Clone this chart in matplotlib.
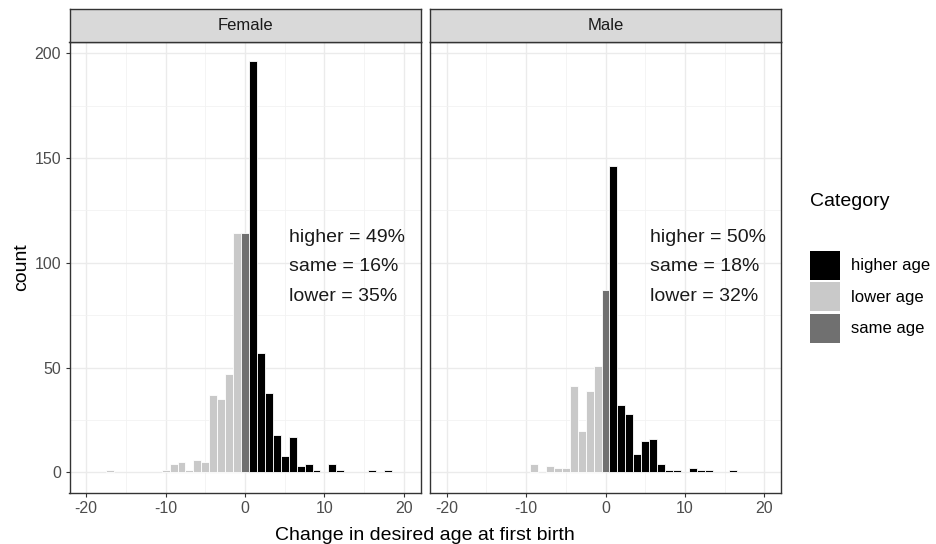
import matplotlib.pyplot as plt
from matplotlib.patches import Patch

plt.rcParams["font.family"] = ["Liberation Sans", "DejaVu Sans"]
plt.rcParams["axes.unicode_minus"] = False

# change in desired age at first birth (bins of width 1) and counts
female_x = [-17, -10, -9, -8, -7, -6, -5, -4, -3, -2, -1, 0, 1, 2, 3, 4, 5, 6, 7, 8, 9, 11, 12, 16, 18]
female_n = [1, 1, 4, 5, 1, 6, 5, 37, 35, 47, 114, 114, 196, 57, 38, 18, 8, 17, 3, 4, 1, 4, 1, 1, 1]

male_x = [-9, -7, -6, -5, -4, -3, -2, -1, 0, 1, 2, 3, 4, 5, 6, 7, 8, 9, 11, 12, 13, 16]
male_n = [4, 3, 2, 2, 41, 20, 39, 51, 87, 146, 32, 28, 9, 15, 16, 4, 1, 1, 2, 1, 1, 1]

panels = ["Female", "Male"]
notes = [["higher = 49%", "same = 16%", "lower = 35%"],
         ["higher = 50%", "same = 18%", "lower = 32%"]]

cat_colors = {"higher age": "#000000", "lower age": "#c9c9c9", "same age": "#707070"}


def category(v):
    if v > 0:
        return "higher age"
    if v < 0:
        return "lower age"
    return "same age"


fig = plt.figure(figsize=(9.36, 5.44), dpi=100)

lefts = [69.5 / 936, 430 / 936]
width = 351 / 936
bottom = 1 - 493 / 544
height = (493 - 42) / 544
strip_h = 33 / 544

data = [(female_x, female_n), (male_x, male_n)]

for k in range(2):
    ax = fig.add_axes([lefts[k], bottom, width, height])
    xs, ns = data[k]
    cols = [cat_colors[category(v)] for v in xs]
    ax.bar(xs, ns, width=1.0, color=cols, edgecolor="white", linewidth=0.6, zorder=3)

    ax.set_xlim(-22.1, 22.1)
    ax.set_ylim(-9.8, 205.3)
    ax.set_xticks([-20, -10, 0, 10, 20])
    ax.set_xticks([-15, -5, 5, 15], minor=True)
    ax.set_yticks([0, 50, 100, 150, 200])
    ax.set_yticks([25, 75, 125, 175], minor=True)
    ax.grid(True, which="major", color="#ebebeb", linewidth=1.0, zorder=0)
    ax.grid(True, which="minor", color="#f2f2f2", linewidth=0.6, zorder=0)
    ax.tick_params(which="minor", length=0)
    ax.tick_params(which="major", length=3, width=0.8, color="#333333",
                   labelcolor="#4d4d4d", labelsize=11.5, pad=3)
    for s in ax.spines.values():
        s.set_color("#333333")
        s.set_linewidth(1.0)
    if k == 1:
        ax.set_yticklabels([])
        ax.tick_params(axis="y", length=0)
    else:
        ax.set_ylabel("count", fontsize=14, labelpad=3)

    for line, yy in zip(notes[k], [112, 98, 84]):
        ax.text(5.6, yy, line, ha="left", va="center", fontsize=14,
                color="#1a1a1a", zorder=4)

    sax = fig.add_axes([lefts[k], bottom + height, width, strip_h])
    sax.set_facecolor("#d9d9d9")
    sax.set_xticks([])
    sax.set_yticks([])
    for s in sax.spines.values():
        s.set_color("#333333")
        s.set_linewidth(1.0)
    sax.text(0.5, 0.5, panels[k], ha="center", va="center",
             fontsize=12, color="#1a1a1a", transform=sax.transAxes)

fig.text(425 / 936, 1 - 535 / 544, "Change in desired age at first birth",
         ha="center", va="center", fontsize=14)

fig.text(810 / 936, 1 - 202 / 544, "Category", ha="left", va="center", fontsize=14)

handles = [Patch(facecolor=c, edgecolor="none", label=lab) for lab, c in cat_colors.items()]
fig.legend(handles=handles, loc="upper left",
           bbox_to_anchor=(803 / 936, 1 - 244 / 544), frameon=False,
           fontsize=12, handlelength=1.8, handleheight=2.3,
           handletextpad=0.7, labelspacing=0.15, borderaxespad=0)

fig.savefig("out.png", dpi=100)
